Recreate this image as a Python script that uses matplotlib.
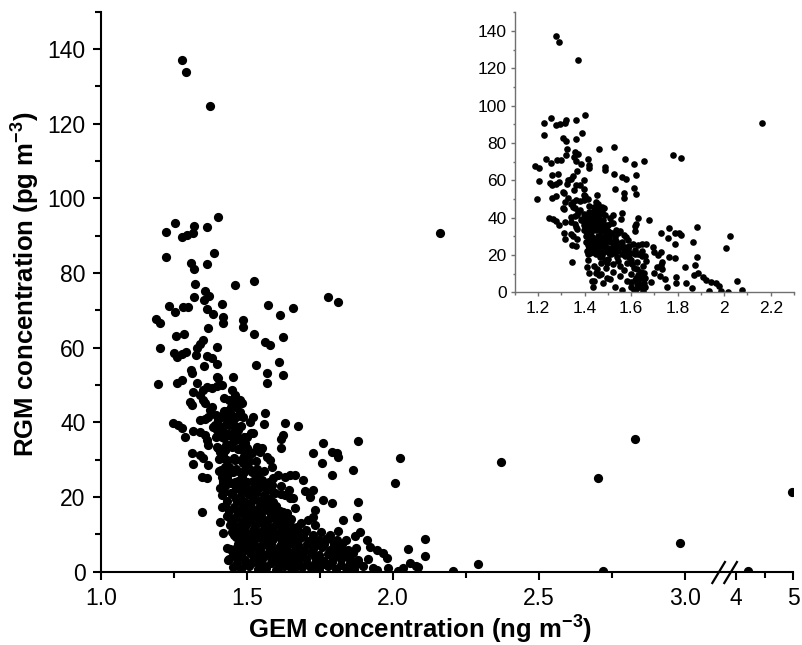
import numpy as np
import matplotlib
matplotlib.use("Agg")
import matplotlib.pyplot as plt
from matplotlib.ticker import FuncFormatter

plt.rcParams['font.family'] = ['Liberation Sans', 'DejaVu Sans']
plt.rcParams['mathtext.fontset'] = 'custom'
plt.rcParams['mathtext.rm'] = 'Liberation Sans'
plt.rcParams['mathtext.bf'] = 'Liberation Sans:bold'

# ---------------- data: subset shown in the inset (also part of main) ----------------
gem_subset = [
    1.276, 1.291, 1.373, 1.400, 1.253, 1.223, 1.318, 1.362, 1.276, 1.293,
    1.314, 1.223, 1.388, 1.308, 1.318, 1.362, 1.322, 1.460, 1.524, 1.320,
    1.356, 1.371, 1.353, 1.234, 1.253, 1.282, 1.297, 1.362, 1.385, 1.413,
    1.419, 1.417, 1.485, 1.487, 1.573, 1.613, 1.656, 1.778, 1.813, 1.188,
    1.202, 1.365, 2.161,
    1.257, 1.285, 1.350, 1.396, 1.202, 1.250, 1.261, 1.276, 1.291, 1.328,
    1.325, 1.339, 1.362, 1.379, 1.396, 1.354, 1.525, 1.562, 1.579, 1.622,
    1.531, 1.610, 1.308, 1.196, 1.259, 1.276, 1.310, 1.328, 1.396, 1.402,
    1.453, 1.567, 1.567, 1.622, 1.413,
    1.316, 1.305, 1.310, 1.350, 1.362, 1.379, 1.396, 1.450, 1.458, 1.476,
    1.482, 1.339, 1.350, 1.356, 1.373, 1.379, 1.367, 1.408, 1.402, 1.339,
    1.356, 1.453, 1.462, 1.476, 1.485, 1.436, 1.520, 1.562,
    1.248, 1.265, 1.276, 1.288, 1.316, 1.385, 1.396, 1.408, 1.413, 1.425,
    1.339, 1.356, 1.362, 1.367, 1.447, 1.458, 1.462, 1.476, 1.482, 1.493,
    1.505, 1.517, 1.534, 1.545, 1.522, 1.558, 1.630, 1.622, 1.618, 1.618,
    1.676, 1.550, 1.514, 1.396, 1.408, 1.419, 1.310, 1.339, 1.350, 1.727,
    1.761, 1.790, 1.807, 1.813, 1.881, 2.024,
    1.316, 1.367, 1.345, 1.362, 1.413, 1.419, 1.408, 1.413, 1.430, 1.425,
    1.419, 1.430, 1.453, 1.458, 1.462, 1.476, 1.567, 1.579, 1.585, 1.487,
    1.497, 1.476, 1.482, 1.534, 1.550, 1.567, 1.585, 1.517, 1.527, 1.539,
    1.607, 1.630, 1.647, 1.664, 1.693, 1.756, 1.864, 1.727, 1.699, 1.630,
    1.596, 1.790, 2.007, 1.476, 1.510, 1.545, 1.567, 1.636,
    1.347, 1.413, 1.408, 1.419, 1.441, 1.453, 1.447, 1.462, 1.485, 1.497,
    1.716, 1.647, 1.664, 1.590, 1.601, 1.624, 1.761, 1.790, 1.733, 1.727,
    1.710, 1.733, 1.881, 1.876, 1.830, 1.659,
    1.430, 1.441, 1.436, 1.887, 1.910, 1.921, 1.944, 1.966, 1.978, 1.984,
    1.933, 2.018, 2.053, 2.078, 1.793, 1.793, 1.834, 1.723, 1.747, 1.754,
    1.697, 1.683, 1.862, 1.870,
    1.500, 1.520, 1.550, 1.570, 1.600, 1.620, 1.630, 1.640, 1.620, 1.650,
    1.600, 1.580, 1.550, 1.520, 1.490, 1.470, 1.510, 1.480, 1.530, 1.560,
    1.610, 1.640, 1.660, 1.650, 1.580, 1.540, 1.500, 1.460, 1.440, 1.470,
    1.500, 1.490, 1.430, 1.445, 1.455, 1.440, 1.470, 1.505, 1.535, 1.560,
    1.590, 1.615, 1.645, 1.625, 1.605, 1.575, 1.545, 1.515, 1.490, 1.465,
    1.450, 1.425, 1.420, 1.455, 1.480, 1.510, 1.440, 1.425, 1.470, 1.495,
    1.405, 1.415, 1.428, 1.438, 1.445, 1.433, 1.420, 1.440,
    1.422, 1.450, 1.480, 1.505, 1.530, 1.560, 1.590, 1.615,
    1.418, 1.445, 1.470, 1.495, 1.520, 1.545, 1.575,
    1.410, 1.437, 1.462, 1.490, 1.515, 1.540,
    1.405, 1.430, 1.455, 1.480, 1.505, 1.530,
    1.400, 1.425, 1.450, 1.475, 1.500,
    1.395, 1.420, 1.445, 1.470, 1.490,
    1.390, 1.415, 1.440, 1.465,
    1.395, 1.420, 1.445, 1.470,
    1.610, 1.635, 1.655, 1.625, 1.645, 1.615, 1.660, 1.600, 1.630, 1.655,
]
rgm_subset = [
    137.1, 133.9, 124.7, 95.0, 93.3, 91.0, 92.6, 92.4, 89.7, 90.2,
    90.6, 84.4, 85.5, 82.6, 81.2, 82.4, 77.0, 76.8, 77.9, 73.7,
    75.3, 73.9, 72.8, 71.2, 69.5, 70.8, 71.0, 70.3, 68.9, 71.7,
    68.3, 66.7, 67.4, 65.6, 71.4, 68.8, 70.6, 73.7, 72.2, 67.7,
    66.7, 65.2, 90.7,
    63.1, 63.7, 62.1, 60.1, 59.8, 58.7, 57.6, 58.3, 58.9, 60.0,
    58.1, 60.9, 57.8, 57.3, 55.6, 55.1, 63.7, 61.6, 60.7, 62.8,
    55.4, 56.1, 54.0, 50.3, 50.5, 51.4, 53.1, 50.5, 52.2, 51.8,
    52.2, 53.1, 50.5, 52.7, 50.0,
    48.2, 45.5, 44.7, 48.7, 49.6, 49.1, 49.7, 48.7, 47.3, 46.0,
    45.3, 47.3, 46.0, 45.1, 43.3, 44.0, 41.5, 41.5, 40.6, 40.6,
    41.0, 45.5, 44.2, 42.9, 41.5, 42.0, 41.5, 42.6,
    39.9, 39.3, 38.4, 36.0, 37.8, 38.8, 38.0, 37.1, 36.2, 37.2,
    37.5, 36.6, 35.3, 33.9, 39.8, 38.0, 36.6, 35.3, 33.5, 34.4,
    32.6, 31.7, 33.5, 32.1, 37.1, 39.5, 39.9, 36.6, 35.5, 33.1,
    39.0, 33.1, 37.2, 33.5, 32.1, 31.3, 31.9, 31.3, 30.4, 31.7,
    34.4, 32.1, 31.7, 30.8, 35.1, 30.4,
    28.9, 28.6, 25.4, 25.0, 25.4, 23.7, 22.3, 20.5, 29.9, 28.1,
    26.8, 25.4, 26.8, 24.1, 22.3, 20.1, 30.8, 29.9, 28.1, 29.0,
    28.1, 26.8, 25.4, 25.4, 24.6, 23.7, 23.2, 26.8, 23.2, 22.3,
    25.9, 25.4, 25.9, 25.9, 24.6, 29.0, 27.2, 21.9, 21.7, 20.5,
    21.0, 25.9, 23.8, 22.8, 21.9, 22.8, 21.9, 20.5,
    16.1, 17.4, 13.4, 10.3, 14.3, 12.5, 10.7, 9.4, 17.4, 15.6,
    20.1, 19.7, 17.0, 18.8, 17.4, 16.1, 19.2, 18.3, 16.5, 14.7,
    13.8, 12.5, 18.8, 14.7, 13.8, 19.7,
    6.3, 6.0, 3.1, 10.7, 8.5, 6.7, 5.8, 4.9, 3.6, 0.9,
    0.9, 0.3, 6.0, 1.6, 8.2, 5.0, 5.3, 8.6, 7.3, 2.8,
    10.3, 5.5, 2.5, 9.6,
    18.0, 15.0, 14.0, 12.0, 10.0, 8.0, 6.0, 4.0, 2.0, 1.0,
    3.0, 6.0, 9.0, 11.0, 13.0, 16.0, 7.0, 5.0, 3.0, 1.5,
    13.0, 11.0, 8.0, 14.0, 16.0, 19.0, 24.0, 30.0, 34.0, 38.0,
    36.0, 31.0, 40.0, 44.0, 35.0, 28.0, 33.0, 29.0, 27.5, 27.0,
    25.0, 23.0, 22.0, 12.5, 15.5, 19.5, 17.0, 20.5, 22.0, 19.0,
    21.0, 32.5, 43.0, 41.0, 39.0, 40.0, 46.0, 23.0, 10.0, 8.0,
    27.0, 30.5, 34.0, 24.0, 21.0, 43.0, 46.5, 37.0,
    21.3, 20.7, 21.5, 20.9, 21.2, 20.6, 21.4, 20.8,
    24.2, 23.7, 24.4, 23.9, 24.3, 23.6, 24.1,
    27.2, 26.7, 27.4, 26.8, 27.3, 26.6,
    30.1, 29.6, 30.4, 29.8, 30.2, 29.7,
    33.2, 32.7, 33.4, 32.8, 33.1,
    36.1, 35.8, 36.3, 35.7, 36.2,
    39.2, 38.7, 39.4, 38.8,
    42.1, 41.7, 42.3, 41.8,
    1.2, 2.8, 5.0, 4.5, 7.5, 6.5, 3.0, 5.5, 9.5, 10.5,
]

# ---------------- data: additional points only in the main panel ----------------
gem_extra = [
    2.369, 2.829, 2.702, 2.983, 4.98, 2.207, 2.292, 2.720, 4.216, 2.110,
    2.110, 2.060, 2.087, 2.035,
    1.452, 1.478, 1.508, 1.537, 1.566, 1.598, 1.628, 1.662, 1.689, 1.718,
    1.748, 1.779, 1.806, 1.838, 1.866, 1.897, 1.945,
    1.440, 1.466, 1.494, 1.523, 1.552, 1.583, 1.612, 1.645, 1.674, 1.703,
    1.733, 1.765, 1.793, 1.822, 1.851, 1.881, 1.915,
    1.458, 1.487, 1.516, 1.545, 1.576, 1.605, 1.636, 1.668, 1.696, 1.727,
    1.757, 1.786, 1.816, 1.846, 1.872,
    1.475, 1.502, 1.530, 1.560, 1.590, 1.620, 1.652, 1.683, 1.712, 1.745,
    1.772, 1.808, 1.838,
    1.463, 1.493, 1.523, 1.553, 1.584, 1.614, 1.643, 1.676, 1.702, 1.755,
    1.812,
    1.452, 1.482, 1.512, 1.541, 1.571, 1.603, 1.632, 1.686,
    1.440, 1.470, 1.500, 1.528, 1.558, 1.590, 1.612, 1.637,
    1.432, 1.462, 1.492, 1.522, 1.550, 1.580,
    1.465, 1.495, 1.522, 1.551, 1.581, 1.613, 1.643, 1.675, 1.704, 1.733,
    1.762, 1.792, 1.822, 1.852, 1.880,
    1.452, 1.480, 1.509, 1.538, 1.567, 1.597, 1.628, 1.657, 1.688, 1.718,
    1.747, 1.777, 1.806, 1.834, 1.862,
    1.468, 1.497, 1.524, 1.553, 1.583, 1.612, 1.643, 1.675, 1.704, 1.735,
    1.765, 1.797, 1.826,
    1.455, 1.485, 1.515, 1.545, 1.575, 1.606, 1.636, 1.665, 1.693, 1.725,
    1.785,
    1.442, 1.470, 1.498, 1.528, 1.557, 1.588, 1.618, 1.648, 1.672,
    1.432, 1.462, 1.492, 1.520, 1.549, 1.578, 1.606, 1.626,
    1.425, 1.455, 1.485, 1.514, 1.544, 1.572, 1.600,
]
rgm_extra = [
    29.5, 35.5, 25.0, 7.8, 21.4, 0.3, 2.0, 0.3, 0.3, 8.8,
    4.1, 2.2, 1.3, 0.9,
    1.2, 0.6, 1.5, 0.8, 1.1, 0.5, 1.6, 0.7, 1.3, 0.9,
    0.4, 1.5, 0.8, 1.1, 0.6, 1.4, 0.5,
    3.4, 3.9, 3.1, 3.8, 3.3, 3.6, 4.0, 3.2, 3.7, 3.5,
    3.9, 3.0, 3.6, 3.3, 3.8, 3.1, 3.4,
    6.2, 5.7, 6.4, 5.9, 6.6, 6.0, 5.6, 6.3, 5.8, 6.1,
    6.5, 5.9, 6.2, 5.7, 6.4,
    8.7, 8.2, 8.9, 8.4, 8.8, 8.1, 8.6, 8.9, 8.3, 8.5,
    8.8, 8.4, 8.6,
    11.2, 10.8, 11.5, 10.9, 11.3, 10.7, 11.4, 10.9, 11.1, 10.6,
    11.0,
    13.7, 13.2, 13.9, 13.4, 13.8, 13.3, 13.6, 13.1,
    16.3, 15.8, 16.5, 16.0, 16.4, 15.9, 16.2, 15.7,
    18.9, 19.4, 18.7, 19.3, 18.6, 19.2,
    2.3, 2.0, 2.5, 2.1, 2.4, 1.9, 2.2, 2.6, 2.0, 2.3,
    2.1, 2.5, 1.9, 2.2, 2.4,
    4.9, 4.6, 5.1, 4.7, 4.8, 5.0, 4.5, 4.9, 4.7, 5.1,
    4.6, 4.8, 5.0, 4.7, 4.9,
    7.4, 7.1, 7.5, 7.2, 7.3, 7.0, 7.5, 7.2, 7.4, 7.1,
    7.3, 7.2, 7.4,
    9.9, 9.6, 10.0, 9.7, 9.9, 9.5, 10.0, 9.8, 9.6, 9.9,
    9.7,
    12.4, 12.1, 12.5, 12.2, 12.4, 12.0, 12.3, 12.5, 12.1,
    14.9, 14.6, 15.0, 14.7, 14.9, 14.5, 14.8, 14.6,
    17.6, 17.3, 17.7, 17.4, 17.6, 17.2, 17.5,
]

main_xticks = [1.0, 1.5, 2.0, 2.5, 3.0, 4, 5]
main_xticklabels = ['1.0', '1.5', '2.0', '2.5', '3.0', '4', '5']
main_xminor = [1.25, 1.75, 2.25, 2.75, 4.5]
yticks = [0, 20, 40, 60, 80, 100, 120, 140]
yminor = [10, 30, 50, 70, 90, 110, 130, 150]
inset_xticks = [1.2, 1.4, 1.6, 1.8, 2.0, 2.2]
inset_xminor = [1.1, 1.3, 1.5, 1.7, 1.9, 2.1, 2.3]

# broken x-axis: 1.0-3.1 linear, 3.1-4 compressed, 4-5 compressed
brk_in = [0.0, 3.1, 4.0, 6.0]
brk_out = [0.0, 3.1, 3.175, 3.175 + 2 * 0.1952]


def fwd(x):
    return np.interp(x, brk_in, brk_out)


def inv(u):
    return np.interp(u, brk_out, brk_in)


fig = plt.figure(figsize=(8.03, 6.45), dpi=100)
ax = fig.add_axes([101 / 803, 1 - 571.7 / 645, 692 / 803, 560 / 645])
ax.set_xscale('function', functions=(fwd, inv))

gem_all = gem_subset + gem_extra
rgm_all = rgm_subset + rgm_extra
ax.scatter(gem_all, rgm_all, s=44, c='black', linewidths=0, zorder=3)

ax.set_xlim(1.0, 5.0)
ax.set_ylim(0, 150)
for s in ['top', 'right']:
    ax.spines[s].set_visible(False)
for s in ['left', 'bottom']:
    ax.spines[s].set_linewidth(1.5)
ax.set_xticks(main_xticks, labels=main_xticklabels)
ax.set_xticks(main_xminor, minor=True)
ax.set_yticks(yticks)
ax.set_yticks(yminor, minor=True)
ax.tick_params(which='major', direction='out', length=6, width=1.5, labelsize=16.5, pad=5)
ax.tick_params(which='minor', direction='out', length=4, width=1.5)
ax.set_xlabel(r'GEM concentration (ng m$^{\mathbf{-3}}$)', fontsize=18.5, fontweight='bold')
ax.set_ylabel(r'RGM concentration (pg m$^{\mathbf{-3}}$)', fontsize=18.5, fontweight='bold')
ax.xaxis.set_label_coords(0.461, -0.072)
ax.yaxis.set_label_coords(-0.087, 0.514)

# break marks
for x0 in [0.8834, 0.9007]:
    ax.plot([x0, x0 + 0.0183], [-0.0202, 0.0173], transform=ax.transAxes,
            color='black', lw=1.6, clip_on=False, zorder=5)

# inset
axin = fig.add_axes([515 / 803, 1 - 292.5 / 645, 279 / 803, 280.2 / 645])
axin.scatter(gem_subset, rgm_subset, s=23, c='black', linewidths=0)
axin.set_xlim(1.1, 2.3)
axin.set_ylim(0, 150)
for s in ['top', 'right']:
    axin.spines[s].set_visible(False)
for s in ['left', 'bottom']:
    axin.spines[s].set_color('#707070')
    axin.spines[s].set_linewidth(1.0)
axin.set_xticks(inset_xticks)
axin.xaxis.set_major_formatter(FuncFormatter(lambda v, p: '%g' % round(v, 2)))
axin.set_xticks(inset_xminor, minor=True)
axin.set_yticks(yticks)
axin.set_yticks(yminor, minor=True)
axin.tick_params(which='major', direction='out', length=3, width=1, color='#707070', labelsize=12.5, pad=3)
axin.tick_params(which='minor', direction='out', length=1.8, width=1, color='#707070')

fig.savefig('out.png', dpi=100)
